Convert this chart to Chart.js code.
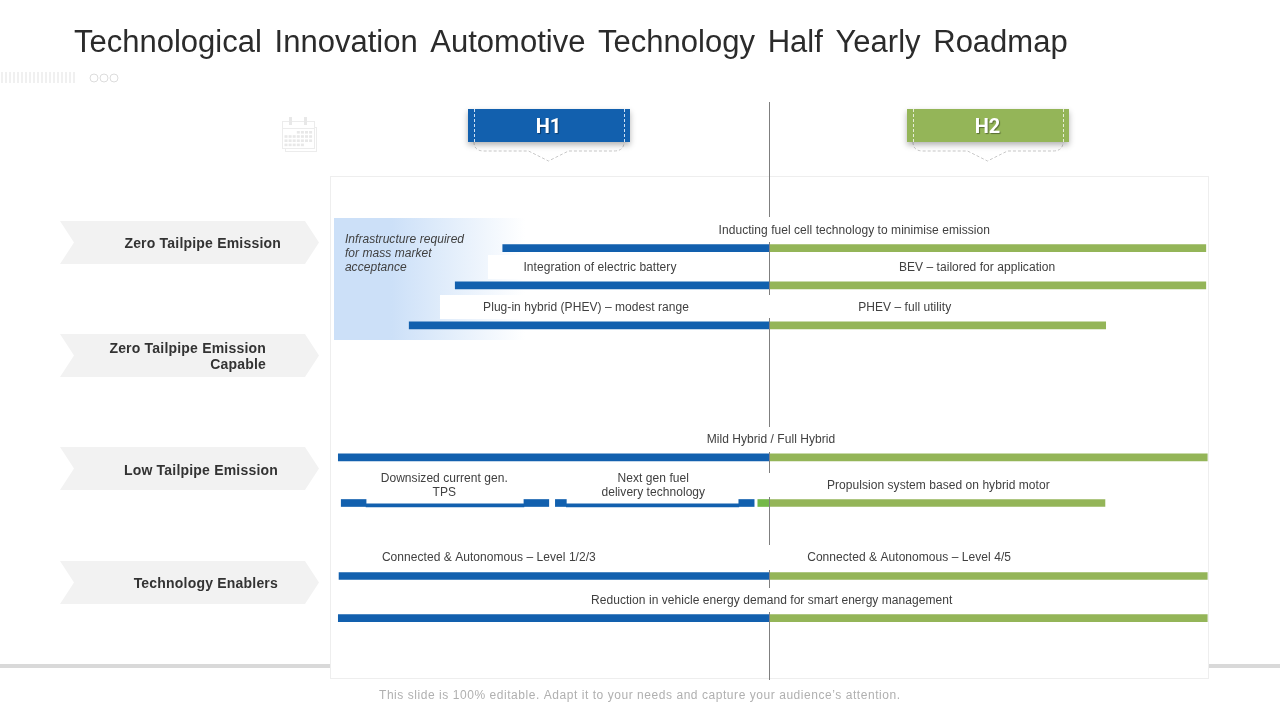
<!DOCTYPE html>
<html>
<head>
<meta charset="utf-8">
<title>Half Yearly Roadmap</title>
<script src="https://cdn.jsdelivr.net/npm/chart.js@4"></script>
<style>
html,body{margin:0;padding:0;background:#fff;width:1280px;height:720px;overflow:hidden}
canvas{display:block}
</style>
</head>
<body>
<canvas id="c" width="1280" height="720"></canvas>
<script>
const chartTitle = 'Technological Innovation Automotive Technology Half Yearly Roadmap';
const footerNote = 'This slide is 100% editable. Adapt it to your needs and capture your audience\u2019s attention.';
const phases = ['H1', 'H2'];
const rowNames = [['Zero Tailpipe Emission'], ['Zero Tailpipe Emission', 'Capable'], ['Low Tailpipe Emission'], ['Technology Enablers']];

// Timeline in months (0-12), lanes are vertical positions on the roadmap
const h1Lanes  = [1.78, 2.71, 3.71, 7.01, 8.15, 8.15, 8.15, 8.15, 9.975, 11.03];
const h1Ranges = [[2.35,6],[1.70,6],[1.07,6],[0.10,6],[0.14,0.48],[2.64,2.98],[3.07,3.22],[5.58,5.79],[0.11,6],[0.10,6]];
const h1ThinLanes  = [8.21, 8.21];
const h1ThinRanges = [[0.48,2.64],[3.22,5.58]];
const h2Lanes  = [1.78, 2.71, 3.71, 7.01, 8.15, 9.975, 11.03];
const h2Ranges = [[6,11.97],[6,11.97],[6,10.60],[6,11.99],[6,10.59],[6,11.99],[6,11.99]];
const bridgeLanes  = [8.15];
const bridgeRanges = [[5.84,6]];

const labelTexts = [
  'Inducting fuel cell technology to minimise emission',
  'Integration of electric battery','BEV \u2013 tailored for application',
  'Plug-in hybrid (PHEV) \u2013 modest range','PHEV \u2013 full utility',
  'Mild Hybrid / Full Hybrid',
  'Downsized current gen.','TPS','Next gen fuel','delivery technology',
  'Propulsion system based on hybrid motor',
  'Connected & Autonomous \u2013 Level 1/2/3','Connected & Autonomous \u2013 Level 4/5',
  'Reduction in vehicle energy demand for smart energy management'
];
const labelMonths = [7.16,3.68,8.84,3.49,7.85,6.02,1.55,1.55,4.41,4.41,8.31,2.16,7.91,6.03];
const labelLanes  = [1.35,2.275,2.275,3.275,3.275,6.575,7.55,7.9,7.55,7.9,7.725,9.525,9.525,10.6];
const noteLines  = ['Infrastructure required','for mass market','acceptance'];
const noteLanes  = [1.575,1.925,2.275];
const noteMonth  = 0.19;

const BLUE='#1260ae', GREEN='#94b558', FONT='"Liberation Sans", Arial, sans-serif';
const toPts=(lanes,ranges)=>lanes.map((y,i)=>({y,x:ranges[i]}));

function rr(ctx,x,y,w,h,color){ctx.fillStyle=color;ctx.fillRect(x,y,w,h);}

function tab(ctx,x,color,text,dashColor){
  const y=109,w=162,h=33,cx=x+w/2-0.5;
  ctx.save();
  ctx.strokeStyle='#c8c8c8';ctx.lineWidth=1;ctx.setLineDash([3,2]);
  ctx.beginPath();ctx.moveTo(x+6,142);ctx.quadraticCurveTo(x+6,151,x+16,151);ctx.lineTo(cx-20,151);
  ctx.lineTo(cx,161);ctx.lineTo(cx+20,151);ctx.lineTo(x+w-16,151);ctx.quadraticCurveTo(x+w-6,151,x+w-6,142);ctx.stroke();
  ctx.restore();
  ctx.save();
  ctx.shadowColor='rgba(0,0,0,0.3)';ctx.shadowBlur=6;ctx.shadowOffsetY=3;
  rr(ctx,x,y,w,h,color);
  ctx.restore();
  ctx.save();
  ctx.strokeStyle=dashColor;ctx.lineWidth=1;ctx.setLineDash([3,2]);
  [x+6.5,x+w-5.5].forEach(px=>{ctx.beginPath();ctx.moveTo(px,y);ctx.lineTo(px,y+h);ctx.stroke();});
  ctx.restore();
  ctx.save();
  ctx.font='700 20px Roboto, sans-serif';ctx.textAlign='center';ctx.textBaseline='middle';
  ctx.shadowColor='rgba(0,0,0,0.4)';ctx.shadowBlur=1;ctx.shadowOffsetX=1;ctx.shadowOffsetY=1;
  ctx.fillStyle='#fff';ctx.fillText(text,cx,y+19);
  ctx.restore();
}

function calendar(ctx){
  ctx.save();
  ctx.strokeStyle='#ececec';ctx.lineWidth=1;
  ctx.strokeRect(283.5,124.5,31,24);
  ctx.strokeRect(285.5,127.5,31,24);
  ctx.fillStyle='#fff';ctx.fillRect(282,123,33,26);
  ctx.strokeRect(282.5,121.5,32,27);
  ctx.beginPath();ctx.moveTo(283,128.5);ctx.lineTo(314,128.5);ctx.stroke();
  ctx.fillStyle='#e8e8e8';
  ctx.fillRect(289,117,3,8);ctx.fillRect(304,117,3,8);
  const cells=[[0,3],[0,4],[0,5],[0,6],[1,0],[1,1],[1,2],[1,3],[1,4],[1,5],[1,6],[2,0],[2,1],[2,2],[2,3],[2,4],[2,5],[2,6],[3,0],[3,1],[3,2],[3,3],[3,4]];
  cells.forEach(([r,c])=>ctx.fillRect(284.5+c*4.1,131+r*4.2,3,2.6));
  ctx.restore();
}

const slideDecor = {
  id:'slideDecor',
  beforeDraw(chart){
    const ctx=chart.ctx;
    ctx.save();
    rr(ctx,0,664,1280,4,'#d9d9d9');
    ctx.fillStyle='#fff';ctx.fillRect(331,177,877,501);
    ctx.strokeStyle='#eeeeee';ctx.lineWidth=1;ctx.strokeRect(330.5,176.5,878,502);
    // title
    ctx.fillStyle='#2b2b2b';ctx.font='31px '+FONT;ctx.textAlign='left';ctx.textBaseline='alphabetic';
    ctx.wordSpacing='4.1px';
    ctx.fillText(chartTitle,74,52);
    ctx.wordSpacing='0px';
    // top-left ornament
    ctx.fillStyle='#f0f0f0';
    for(let i=0;i<19;i++){ctx.fillRect(1+i*4,72,2,11);}
    ctx.strokeStyle='#dcdcdc';
    [94,104,114].forEach(x=>{ctx.beginPath();ctx.arc(x,78,4,0,Math.PI*2);ctx.stroke();});
    calendar(ctx);
    tab(ctx,468,BLUE,phases[0],'#cfe0f2');
    tab(ctx,907,GREEN,phases[1],'#e6eed6');
    // row arrows
    [221,334,447,561].forEach((y,i)=>{
      const h=43;
      ctx.fillStyle='#f2f2f2';
      ctx.beginPath();ctx.moveTo(60,y);ctx.lineTo(305,y);ctx.lineTo(319,y+h/2);ctx.lineTo(305,y+h);
      ctx.lineTo(60,y+h);ctx.lineTo(74,y+h/2);ctx.closePath();ctx.fill();
    });
    ctx.fillStyle='#333';ctx.font='700 14px '+FONT;ctx.textAlign='right';ctx.textBaseline='middle';
    ctx.letterSpacing='0.2px';
    ctx.fillText(rowNames[0][0],281,244);
    ctx.fillText(rowNames[1][0],266,349);
    ctx.fillText(rowNames[1][1],266,365);
    ctx.fillText(rowNames[2][0],278,471);
    ctx.fillText(rowNames[3][0],278,584);
    // footer
    ctx.fillStyle='#b0b0b0';ctx.font='12px '+FONT;ctx.textAlign='left';ctx.textBaseline='middle';
    ctx.letterSpacing='0.55px';
    ctx.fillText(footerNote,379,696);
    ctx.letterSpacing='0px';
    ctx.restore();
  },
  beforeDatasetsDraw(chart){
    const ctx=chart.ctx;
    ctx.save();
    const g=ctx.createLinearGradient(334,0,525,0);
    g.addColorStop(0,'#cce0f8');g.addColorStop(0.3,'#cce0f8');g.addColorStop(1,'#ffffff');
    ctx.fillStyle=g;ctx.fillRect(334,218,191,122);
    ctx.fillStyle='#fff';ctx.fillRect(488,255,120,24);ctx.fillRect(440,295,170,24);
    ctx.restore();
  },
  afterDatasetsDraw(chart){
    const ctx=chart.ctx,xs=chart.scales.x,ys=chart.scales.y;
    ctx.save();
    // mid-year divider
    const mx=Math.round(xs.getPixelForValue(6))-0.5;
    ctx.strokeStyle='#7f7f7f';ctx.lineWidth=1;
    [[102,217],[242,295],[318,427],[452,473],[497,545],[570,588],[612,680]].forEach(([a,b])=>{
      ctx.beginPath();ctx.moveTo(mx,a);ctx.lineTo(mx,b);ctx.stroke();
    });
    // timeline labels
    ctx.fillStyle='#404040';ctx.font='12px '+FONT;ctx.textAlign='center';ctx.textBaseline='middle';
    ctx.letterSpacing='0.05px';
    labelTexts.forEach((t,i)=>ctx.fillText(t,xs.getPixelForValue(labelMonths[i]),ys.getPixelForValue(labelLanes[i])));
    ctx.font='italic 12px '+FONT;ctx.textAlign='left';
    noteLines.forEach((t,i)=>ctx.fillText(t,xs.getPixelForValue(noteMonth),ys.getPixelForValue(noteLanes[i])));
    ctx.restore();
  }
};

new Chart(document.getElementById('c'),{
  type:'bar',
  data:{datasets:[
    {label:phases[0],data:toPts(h1Lanes,h1Ranges),backgroundColor:BLUE,barThickness:7},
    {label:phases[0]+' base',data:toPts(h1ThinLanes,h1ThinRanges),backgroundColor:BLUE,barThickness:3},
    {label:phases[1],data:toPts(h2Lanes,h2Ranges),backgroundColor:GREEN,barThickness:7},
    {label:phases[1]+' lead',data:toPts(bridgeLanes,bridgeRanges),backgroundColor:'#74b848',barThickness:7}
  ]},
  options:{
    indexAxis:'y',responsive:false,animation:false,devicePixelRatio:1,
    grouped:false,
    layout:{padding:{left:331,right:72,top:177,bottom:42}},
    plugins:{legend:{display:false},title:{display:false},tooltip:{enabled:false}},
    scales:{
      x:{type:'linear',min:0,max:12,display:false,offset:false},
      y:{type:'linear',min:0,max:12.525,reverse:true,display:false,offset:false}
    }
  },
  plugins:[slideDecor]
});
</script>
</body>
</html>
